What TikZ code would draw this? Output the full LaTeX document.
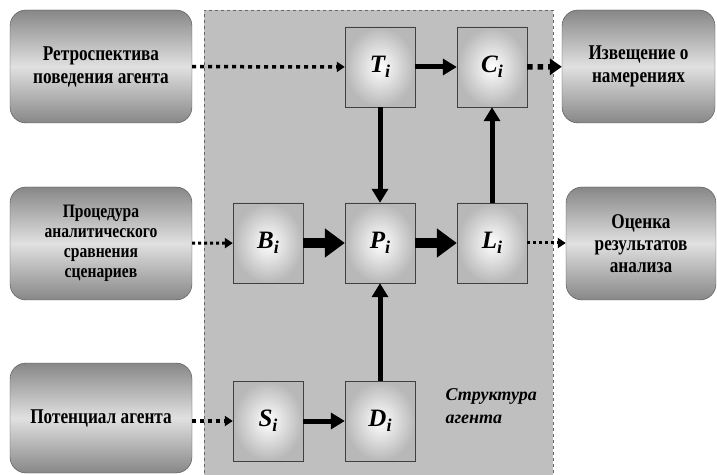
\documentclass[tikz,border=0pt]{standalone}
\usepackage{fontspec}
\setmainfont{Liberation Serif}
\newfontfamily\boxfont{Liberation Serif}[FakeStretch=0.82]
\usepackage{tikz}
\usetikzlibrary{shapes}
\usetikzlibrary{arrows.meta}

\newcommand{\agentvar}[2]{\textbf{\textit{#1\raisebox{-0.4ex}{\fontsize{18}{18}\selectfont #2}}}}

\begin{document}
\begin{tikzpicture}[x=1pt,y=1pt]

      \tikzset{outer/.style = {shape=rectangle,rounded corners=16pt,draw=black!70,
          top color=black!47,bottom color=black!47,middle color=black!12,
          minimum height=113pt,align=center,
          font=\boxfont\bfseries\fontsize{21}{23}\selectfont}}
      \tikzset{unit/.style = {shape=rectangle,draw=black!75,inner color=white,
          outer color=black!28,minimum width=70pt,minimum height=80pt,
          font=\fontsize{25}{25}\selectfont}}
      \tikzset{feed/.style = {-{Triangle[length=8pt,width=10pt]},line width=3.5pt,
          dash pattern=on 4pt off 4pt}}
      \tikzset{flow/.style = {-{Triangle[length=14pt,width=16pt]},line width=5pt}}
      \tikzset{wide/.style = {-{Triangle[length=20pt,width=28pt]},line width=10pt}}
      \useasboundingbox (0,0) rectangle (717,474);
      % agent structure
      \draw[dashed,draw=black!60,fill=black!25] (204,-5) rectangle (553,464);
      % vertices
      \node[outer,minimum width=182pt] (retro) at (101,407.5)
          {Ретроспектива\\поведения агента};
      \node[outer,minimum width=182pt,font=\boxfont\bfseries\fontsize{19}{20}\selectfont] (proc) at (101,230.5)
          {Процедура\\аналитического\\сравнения\\сценариев};
      \node[outer,minimum width=182pt,minimum height=110pt] (pot) at (101,56)
          {Потенциал агента};
      \node[outer,minimum width=153pt] (notice) at (638.5,407.5)
          {Извещение о\\намерениях};
      \node[outer,minimum width=150pt,font=\boxfont\bfseries\fontsize{21}{22}\selectfont] (eval) at (641,230.5)
          {Оценка\\результатов\\анализа};
      \node[unit] (t) at (380,407) {\agentvar{T}{i}};
      \node[unit] (c) at (492,407) {\agentvar{C}{i}};
      \node[unit] (b) at (268,231) {\agentvar{B}{i}};
      \node[unit] (p) at (380,231) {\agentvar{P}{i}};
      \node[unit] (l) at (492,231) {\agentvar{L}{i}};
      \node[unit] (s) at (268,53)  {\agentvar{S}{i}};
      \node[unit] (d) at (380,53)  {\agentvar{D}{i}};
      \node[align=left,anchor=west,font=\bfseries\itshape\fontsize{18}{23}\selectfont] (caption) at (442,68)
          {Структура\\агента};
      %edges
      \draw[feed] (retro) -- (t);
      \draw[flow] (t) -- (c);
      \draw[feed,-{Triangle[length=12pt,width=16pt]},line width=5.5pt,dash pattern=on 5.5pt off 5pt] (c) -- (notice);
      \draw[flow] (t) -- (p);
      \draw[flow] (l) -- (c);
      \draw[feed,line width=3pt,dash pattern=on 3pt off 3pt] (proc) -- (b);
      \draw[wide] (b) -- (p);
      \draw[wide] (p) -- (l);
      \draw[feed,line width=3pt,dash pattern=on 3pt off 3pt] (l) -- (l -| eval.west);
      \draw[feed] (pot.east |- s) -- (s);
      \draw[flow] (s) -- (d);
      \draw[flow] (d) -- (p);
\end{tikzpicture}
\end{document}
